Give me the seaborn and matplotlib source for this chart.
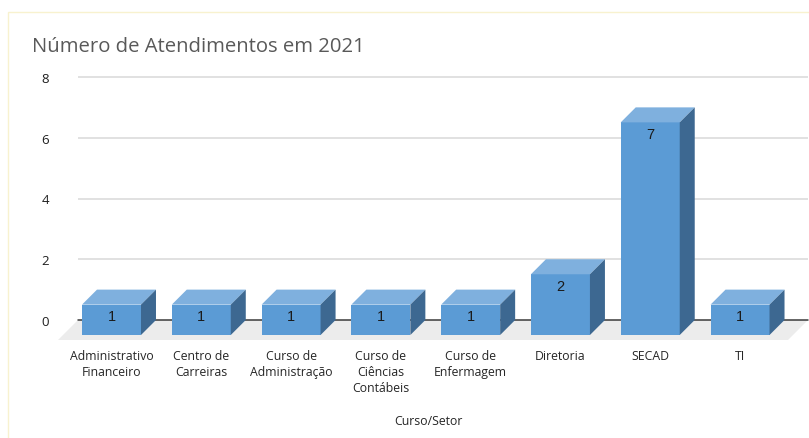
import matplotlib
matplotlib.use("Agg")
import matplotlib.pyplot as plt
import seaborn as sns
import numpy as np
from matplotlib.patches import Polygon, Rectangle

# ---- data ----
categories = ["Administrativo Financeiro", "Centro de Carreiras", "Curso de Administração",
              "Curso de Ciências Contábeis", "Curso de Enfermagem", "Diretoria", "SECAD", "TI"]
tick_labels = ["Administrativo\nFinanceiro", "Centro de\nCarreiras", "Curso de\nAdministração",
               "Curso de\nCiências\nContábeis", "Curso de\nEnfermagem", "Diretoria", "SECAD", "TI"]
values = [1, 1, 1, 1, 1, 2, 7, 1]
y_ticks = [0, 2, 4, 6, 8]
title = "Número de Atendimentos em 2021"
x_title = "Curso/Setor"

# ---- style ----
sns.set_style("white")
plt.rcParams["font.family"] = ["Open Sans", "DejaVu Sans"]

FRONT = "#5b9bd5"
TOP = "#7fb0de"
SIDE = "#3d6891"

W, H = 809, 439
fig = plt.figure(figsize=(W / 100, H / 100), dpi=100)
fig.patch.set_facecolor("white")


def rect(l, t, r, b):
    return [l / W, 1 - b / H, (r - l) / W, (b - t) / H]


# back wall axes (gridlines + y labels) and front axes (bars), offset for depth
axb = fig.add_axes(rect(78, 78, 808, 321))
ax = fig.add_axes(rect(63, 93, 793, 336))
xlim = (-0.54, 7.59)
ylim = (0, 8)

for a in (axb, ax):
    a.set_xlim(*xlim)
    a.set_ylim(*ylim)
    a.patch.set_visible(False)
    for s in a.spines.values():
        s.set_visible(False)

# back wall
axb.hlines([t for t in y_ticks if t > 0], xlim[0], xlim[1], color="#d9d9d9", lw=1.1,
           clip_on=False, zorder=1)
axb.axhline(0, color="#3a3a3a", lw=1.1, zorder=2, clip_on=False)
axb.set_yticks(y_ticks)
axb.set_yticklabels([str(t) for t in y_ticks], fontsize=9.5, color="#1f1f1f")
axb.tick_params(axis="y", length=0, pad=21)
axb.set_xticks([])

# bars (front faces)
sns.barplot(x=categories, y=values, ax=ax, color=FRONT, saturation=1, width=0.657,
            edgecolor="none", zorder=3)
ax.set_xlim(*xlim)
ax.set_ylim(*ylim)
ax.set_ylabel("")
ax.set_yticks([])
ax.set_xticks(range(len(categories)))
ax.set_xticklabels(tick_labels, fontsize=8.8, color="#262626", linespacing=1.32)
ax.tick_params(axis="x", length=0, pad=10)
ax.set_xlabel(x_title, fontsize=8.8, color="#262626", labelpad=14)

# floor
fl_back = np.array([axb.transData.transform((xlim[0], 0)), axb.transData.transform((xlim[1], 0))])
fl_front = np.array([ax.transData.transform((xlim[1], 0)), ax.transData.transform((xlim[0], 0))]) - 5
floor_disp = np.vstack([fl_back, fl_front])
floor = axb.transData.inverted().transform(floor_disp)
axb.add_patch(Polygon(floor, closed=True, facecolor="#ececec", edgecolor="none",
                      clip_on=False, zorder=0.5))


def to_back(pts):
    return ax.transData.inverted().transform(axb.transData.transform(pts))


for p, v in zip(ax.patches, values):
    x0, w, h = p.get_x(), p.get_width(), p.get_height()
    x1 = x0 + w
    top_back = to_back([(x1, h), (x0, h)])
    top = np.vstack([[(x0, h), (x1, h)], top_back])
    side_back = to_back([(x1, h), (x1, 0)])
    side = np.vstack([[(x1, 0), (x1, h)], side_back])
    ax.add_patch(Polygon(top, closed=True, facecolor=TOP, edgecolor="none", clip_on=False, zorder=3))
    ax.add_patch(Polygon(side, closed=True, facecolor=SIDE, edgecolor="none", clip_on=False, zorder=3))
    ax.annotate(f"{v}", (x0 + w / 2, h), xytext=(0, -8.5), textcoords="offset points",
                ha="center", va="center", fontsize=10.5, color="#1a1a1a",
                family=["Liberation Sans", "DejaVu Sans"], zorder=5)

# title
fig.text(32 / W, 1 - 47 / H, title, ha="left", va="center", fontsize=14.6, color="#595959")

# pale chart border (left and top edges visible)
fig.add_artist(Rectangle((8 / W, -0.05), 1.2, 1.05 - 13 / H, transform=fig.transFigure,
                         facecolor="none", edgecolor="#f8f2cf", lw=1.0))

fig.savefig("out.png", dpi=100)
